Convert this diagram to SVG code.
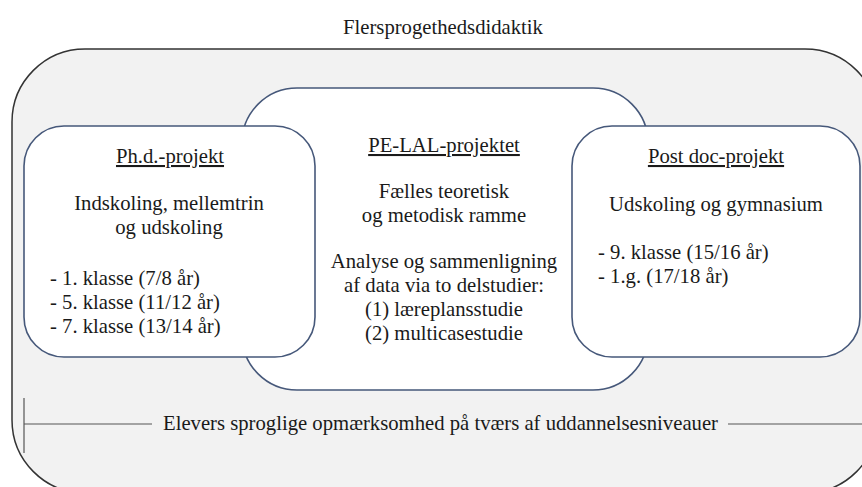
<svg xmlns="http://www.w3.org/2000/svg" width="862" height="487" viewBox="0 0 862 487">
<style>
text{font-family:"Liberation Serif","Times New Roman",serif;font-size:20.7px;fill:#1a1a1a}
.c{text-anchor:middle}
.u{text-decoration:underline}
.box{fill:#ffffff;stroke:#46587a;stroke-width:1.6}
.line{stroke:#555;stroke-width:1.2;fill:none}
</style>
<rect width="862" height="487" fill="#ffffff"/>
<text class="c" x="443" y="34">Flersprogethedsdidaktik</text>
<g id="outer">
<rect x="12" y="49" width="866" height="444" rx="73" ry="73" fill="#f2f2f2" stroke="#333" stroke-width="1.5"/>
</g>
<g id="pelal">
<rect class="box" x="242" y="88" width="406" height="302" rx="55" ry="55"/>
<text class="c u" x="444" y="152">PE-LAL-projektet</text>
<text class="c" x="444" y="198">Fælles teoretisk</text>
<text class="c" x="444" y="222">og metodisk ramme</text>
<text class="c" x="444" y="268">Analyse og sammenligning</text>
<text class="c" x="444" y="292">af data via to delstudier:</text>
<text class="c" x="444" y="316">(1) læreplansstudie</text>
<text class="c" x="444" y="340">(2) multicasestudie</text>
</g>
<g id="phd">
<rect class="box" x="24" y="126" width="291" height="231" rx="40" ry="40"/>
<text class="c u" x="170" y="163">Ph.d.-projekt</text>
<text class="c" x="169" y="210">Indskoling, mellemtrin</text>
<text class="c" x="169" y="234">og udskoling</text>
<text x="50" y="285">- 1. klasse (7/8 år)</text>
<text x="50" y="309">- 5. klasse (11/12 år)</text>
<text x="50" y="333">- 7. klasse (13/14 år)</text>
</g>
<g id="postdoc">
<rect class="box" x="572" y="126" width="288" height="231" rx="40" ry="40"/>
<text class="c u" x="716" y="163">Post doc-projekt</text>
<text class="c" x="716" y="211">Udskoling og gymnasium</text>
<text x="598" y="259">- 9. klasse (15/16 år)</text>
<text x="598" y="283">- 1.g. (17/18 år)</text>
</g>
<g id="connectors">
<line class="line" x1="24" y1="398" x2="24" y2="453"/>
<line class="line" x1="24" y1="424" x2="152" y2="424"/>
<line class="line" x1="728" y1="424" x2="862" y2="424"/>
</g>
<text x="163" y="430">Elevers sproglige opmærksomhed på tværs af uddannelsesniveauer</text>
</svg>
